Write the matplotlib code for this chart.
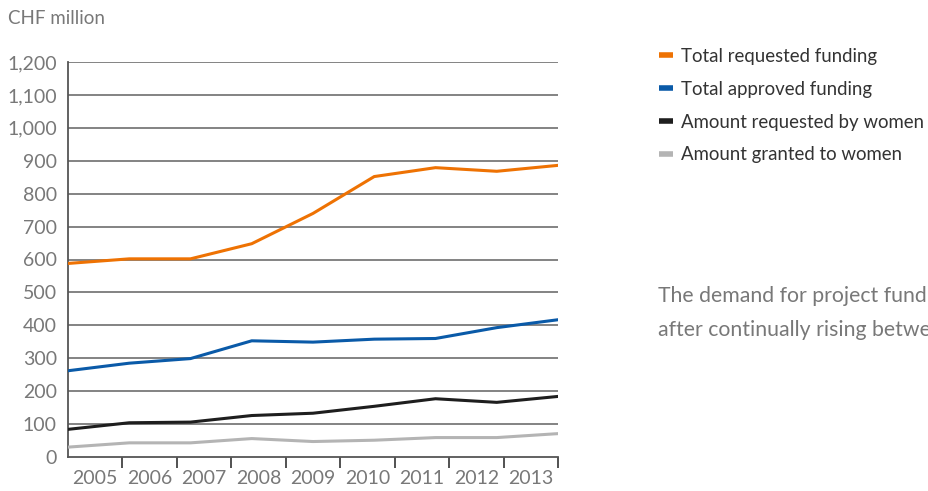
import matplotlib.pyplot as plt
from matplotlib.lines import Line2D
import numpy as np

years = ["2005", "2006", "2007", "2008", "2009", "2010", "2011", "2012", "2013"]
requested_total = [588, 602, 602, 648, 740, 852, 879, 868, 886]
approved_total = [262, 285, 299, 353, 349, 358, 360, 393, 417]
requested_women = [84, 104, 106, 126, 133, 154, 177, 166, 184]
granted_women = [30, 43, 43, 56, 47, 51, 59, 59, 71]

series = [
    ("Total requested funding", requested_total, "#ee7203"),
    ("Total approved funding", approved_total, "#0a5aa8"),
    ("Amount requested by women", requested_women, "#1e1e1e"),
    ("Amount granted to women", granted_women, "#b4b4b4"),
]

plt.rcParams['font.family'] = ['Lato', 'DejaVu Sans']
grey_txt = "#787878"

fig = plt.figure(figsize=(9.29, 4.91), dpi=100)
ax = fig.add_axes([68 / 929, 34 / 491, 490 / 929, 395 / 491])

x = np.arange(len(years))
for label, vals, col in series:
    ax.plot(x, vals, color=col, lw=2.2, solid_joinstyle='miter', zorder=3)

n = len(years)
ax.set_xlim(0, n - 1)
ax.set_ylim(0, 1200)
step = (n - 1) / n
ax.set_xticks([k * step for k in range(1, n + 1)])
ax.set_xticklabels([])
ax.set_xticks([(k + 0.5) * step for k in range(n)], minor=True)
ax.set_xticklabels(years, minor=True)
ax.tick_params(axis='x', which='major', length=8, width=1.2, color="#333333", direction='out')
ax.tick_params(axis='x', which='minor', length=0, pad=9, labelsize=14, labelcolor=grey_txt)

ax.set_yticks(range(0, 1201, 100))
ax.set_yticklabels([f"{v:,}" for v in range(0, 1201, 100)])
ax.tick_params(axis='y', length=0, pad=8, labelsize=14, labelcolor=grey_txt)
for v in range(100, 1201, 100):
    ax.axhline(v, color="#7a7a7a", lw=1.3, zorder=1)

for s in ['top', 'right']:
    ax.spines[s].set_visible(False)
for s in ['left', 'bottom']:
    ax.spines[s].set_color("#555555")
    ax.spines[s].set_linewidth(1.3)

fig.text(8 / 929, 1 - 18 / 491, "CHF million", fontsize=13.5, color=grey_txt, va='center')

handles = [Line2D([0], [0], color=c, lw=4, solid_capstyle='butt') for _, _, c in series]
fig.legend(handles, [s[0] for s in series], loc='upper left',
           bbox_to_anchor=(659 / 929, 1 - 48 / 491), frameon=False,
           handlelength=0.75, handletextpad=0.42, labelspacing=0.85,
           fontsize=13.4, labelcolor="#333333", borderaxespad=0, borderpad=0)

fig.text(658 / 929, 1 - 296 / 491, "The demand for project funding has stabilised",
         fontsize=15.3, color=grey_txt, va='center')
fig.text(658 / 929, 1 - 330 / 491, "after continually rising between 2005 and 2010.",
         fontsize=15.3, color=grey_txt, va='center')

fig.savefig("out.png", dpi=100)
